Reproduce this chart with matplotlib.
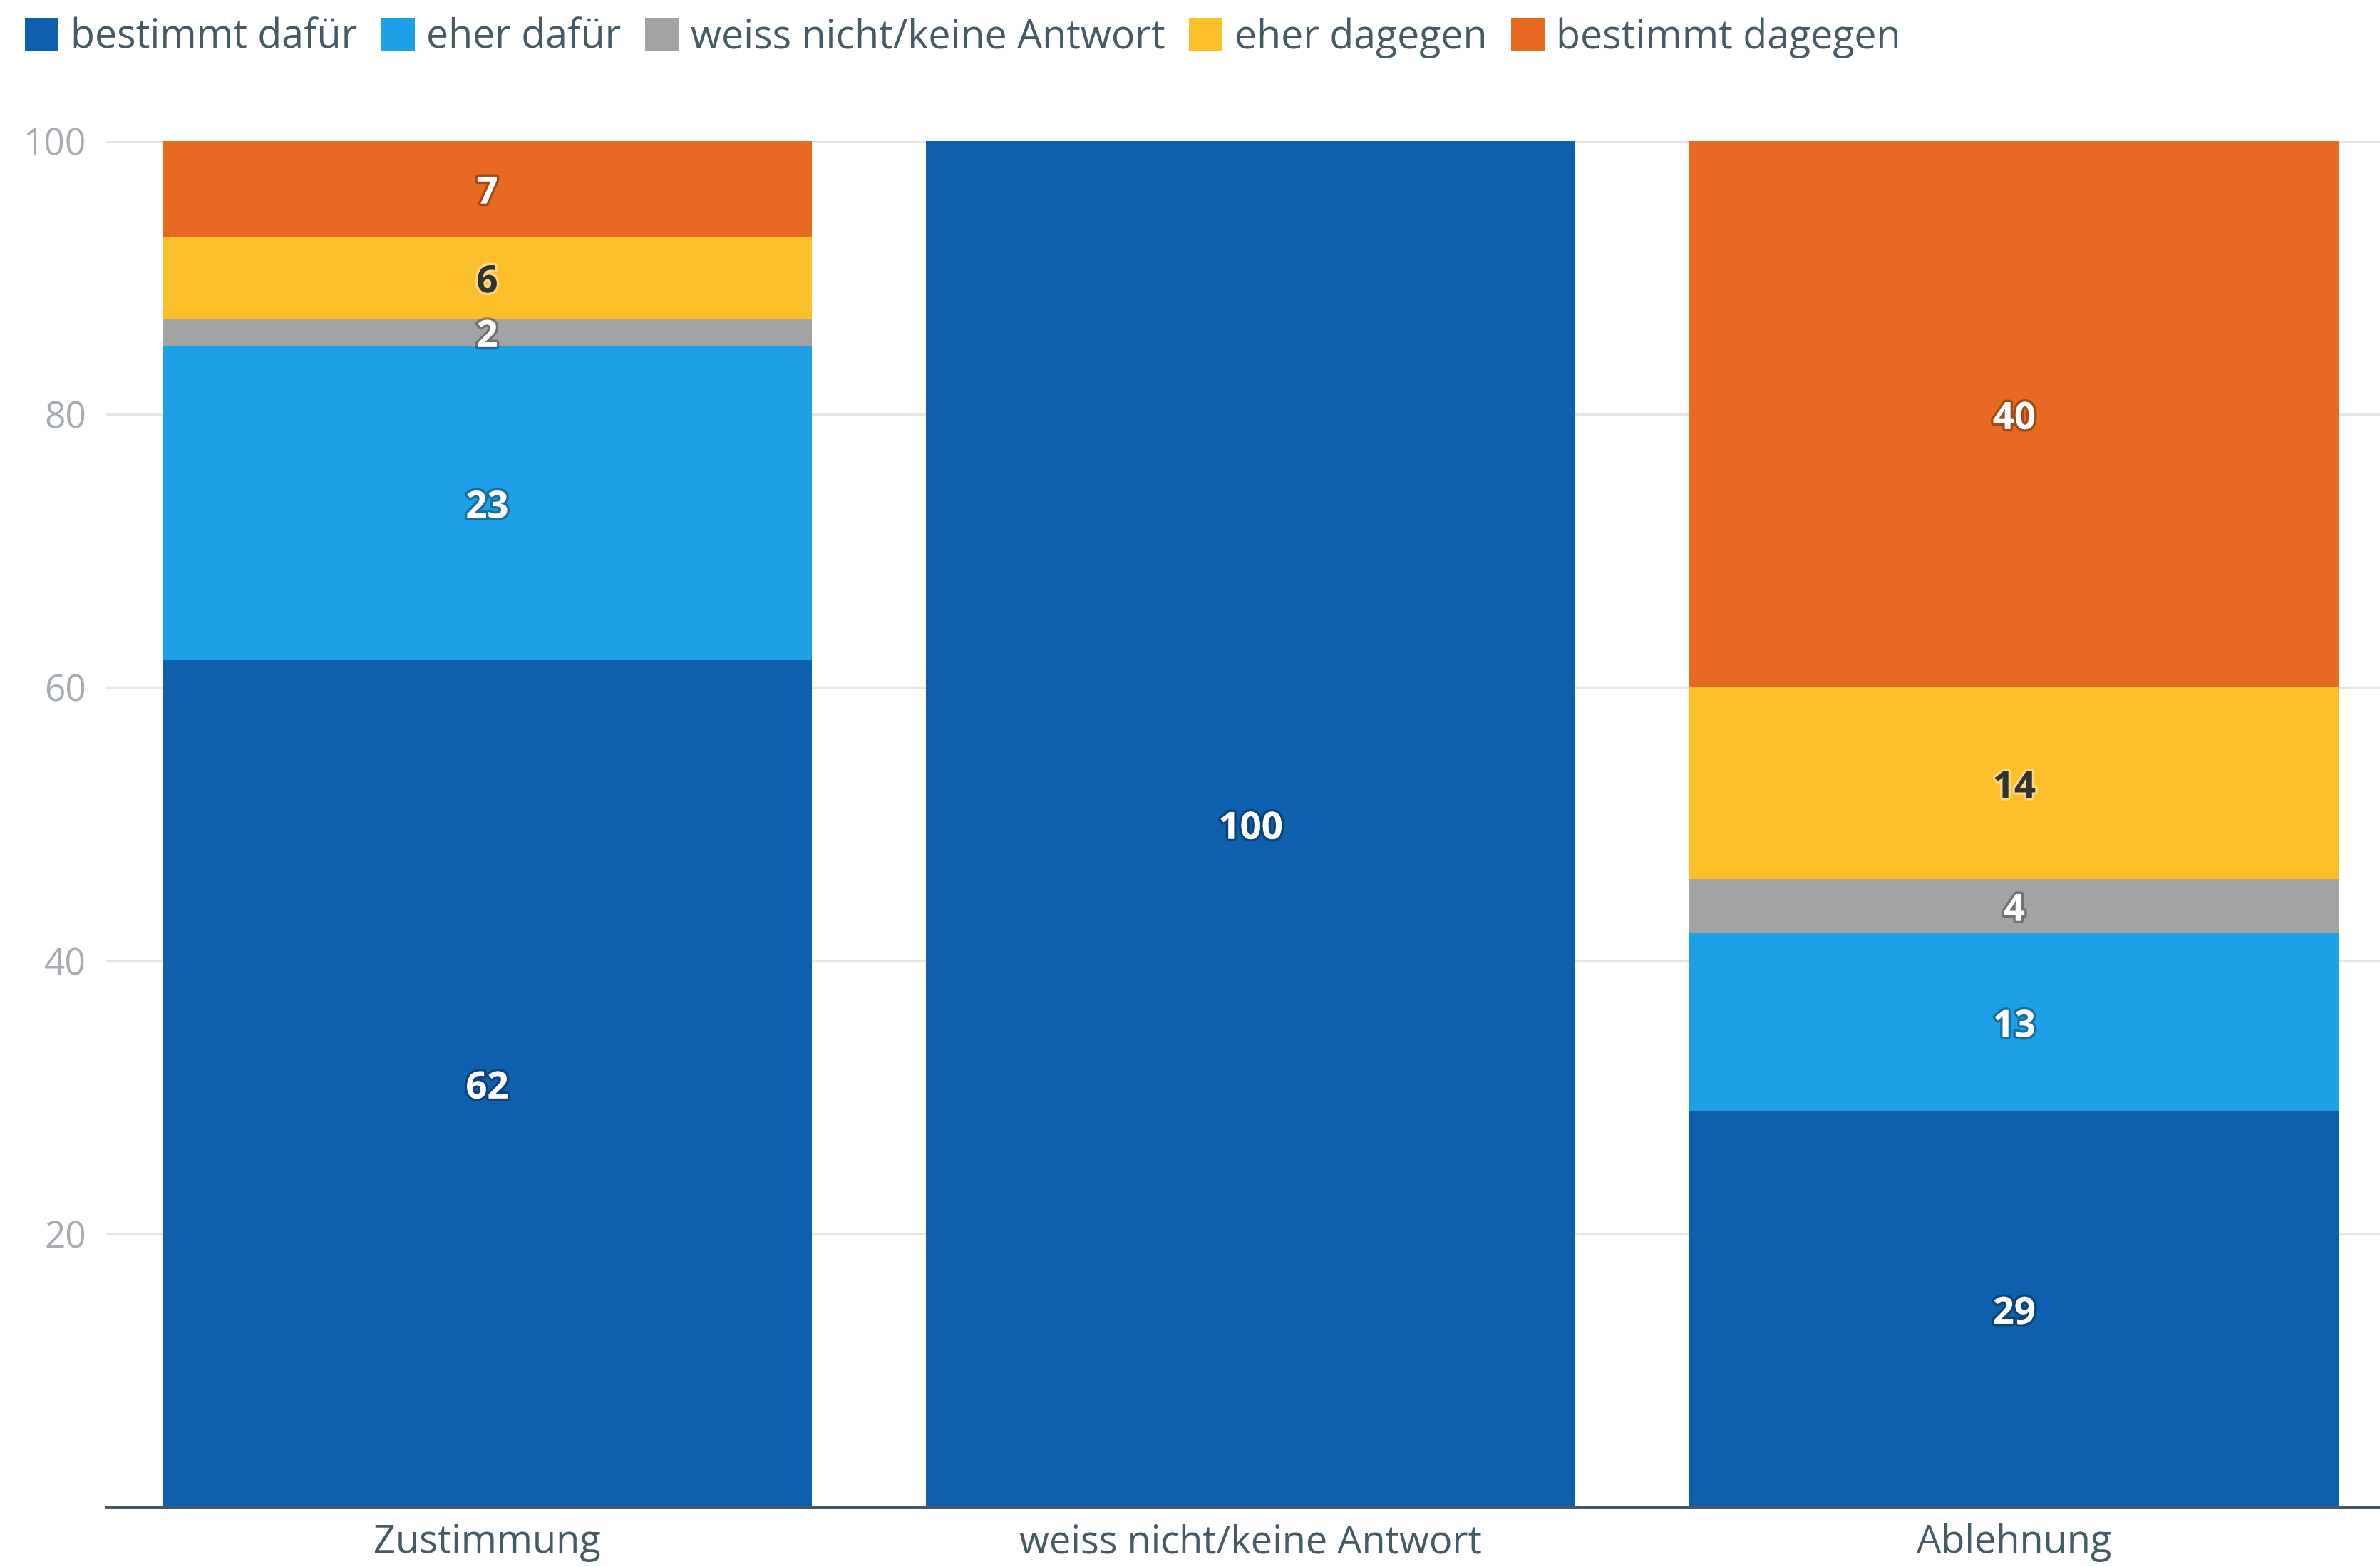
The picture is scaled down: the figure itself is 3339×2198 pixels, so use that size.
import matplotlib
matplotlib.use("Agg")
import matplotlib.pyplot as plt
import matplotlib.patheffects as pe
import numpy as np

plt.rcParams['font.family'] = ['Open Sans', 'DejaVu Sans']

# Kategorien und Werte (in Prozent)
kategorien = ["Zustimmung", "weiss nicht/keine Antwort", "Ablehnung"]
serien = ["bestimmt dafür", "eher dafür", "weiss nicht/keine Antwort",
          "eher dagegen", "bestimmt dagegen"]
bestimmt_dafuer = [62, 100, 29]
eher_dafuer = [23, 0, 13]
weiss_nicht = [2, 0, 4]
eher_dagegen = [6, 0, 14]
bestimmt_dagegen = [7, 0, 40]
y_ticks = [20, 40, 60, 80, 100]

farben = ["#0e60ae", "#1ea0e8", "#a3a3a3", "#fbbf2a", "#e86a22"]
text_farben = ["white", "white", "white", "#333333", "white"]

werte = [bestimmt_dafuer, eher_dafuer, weiss_nicht, eher_dagegen, bestimmt_dagegen]

fig = plt.figure(figsize=(33.39, 21.98), dpi=100)
ax = fig.add_axes([0.0446, 0.0382, 0.9554, 0.8718])

x = np.arange(len(kategorien))
unten = np.zeros(len(kategorien))
for name, vals, farbe, tf in zip(serien, werte, farben, text_farben):
    vals = np.array(vals, dtype=float)
    ax.bar(x, vals, width=0.851, bottom=unten, color=farbe, label=name,
           zorder=2)
    for xi, v, b in zip(x, vals, unten):
        if v <= 0:
            continue
        if tf == "white":
            effekt = [pe.withStroke(linewidth=5, foreground=(0, 0, 0, 0.3))]
        else:
            effekt = [pe.withStroke(linewidth=5, foreground=(1, 1, 1, 0.4))]
        ax.text(xi, b + v / 2 - 0.35, f"{int(v)}", ha="center", va="center",
                fontsize=38, fontweight="bold", color=tf, zorder=3,
                path_effects=effekt)
    unten += vals

ax.set_xlim(-0.499, 2.479)
ax.set_ylim(0, 100)
ax.set_yticks(y_ticks)
ax.set_xticks(x)
ax.set_xticklabels(kategorien)
ax.grid(axis="y", color="#e6e6e6", linewidth=2.5, zorder=0)
ax.set_axisbelow(True)
for s in ["top", "right", "left"]:
    ax.spines[s].set_visible(False)
ax.spines["bottom"].set_color("#455a64")
ax.spines["bottom"].set_linewidth(3.5)
ax.spines["bottom"].set_zorder(4)
ax.tick_params(axis="y", length=0, labelsize=37, labelcolor="#a5adb3", pad=20)
ax.tick_params(axis="x", length=0, labelsize=39, labelcolor="#455a64", pad=16)

fig.legend(loc="upper left", bbox_to_anchor=(0.0105, 0.989), ncol=5,
           frameon=False, fontsize=40, handlelength=0.85, handleheight=0.9,
           handletextpad=0.3, columnspacing=0.6, borderaxespad=0,
           borderpad=0, labelcolor="#455a64")

fig.savefig("out.png", dpi=100)
